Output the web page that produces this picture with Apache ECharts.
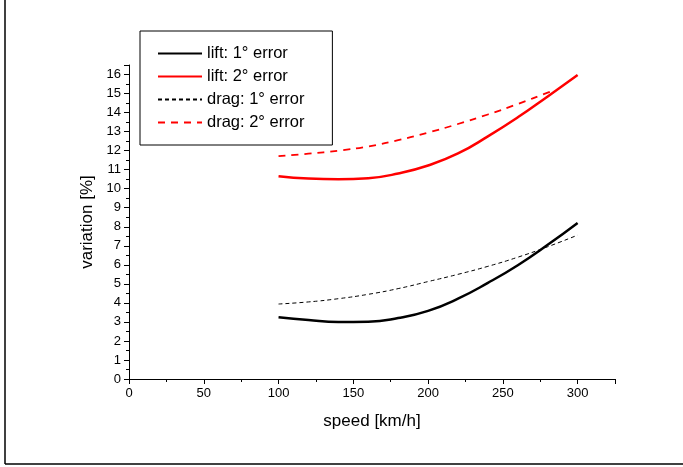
<!DOCTYPE html>
<html>
<head>
<meta charset="utf-8">
<script src="https://cdn.jsdelivr.net/npm/echarts@6/dist/echarts.min.js"></script>
<style>
  html, body { margin: 0; padding: 0; background: #fff; }
  #chart { width: 683px; height: 467px; }
</style>
</head>
<body>
<div id="chart"></div>
<script>
// speed [km/h] -> variation [%]
var speeds = [100, 120, 140, 160, 180, 200, 220, 240, 260, 280, 300];
var lift1 = [3.25, 3.1, 3.0, 3.01, 3.2, 3.58, 4.22, 5.05, 5.98, 7.05, 8.2];
var lift2 = [10.66, 10.53, 10.49, 10.55, 10.8, 11.22, 11.85, 12.75, 13.75, 14.85, 15.97];
var drag1 = [3.94, 4.05, 4.22, 4.45, 4.75, 5.12, 5.5, 5.92, 6.4, 6.95, 7.56];
// drag: 2° error stops where it meets the lift curve
var drag2Speeds = [100, 120, 140, 160, 180, 200, 220, 240, 260, 280, 285];
var drag2 = [11.71, 11.84, 12.0, 12.22, 12.55, 12.95, 13.4, 13.9, 14.45, 15.05, 15.2];
var seriesNames = ["lift: 1° error", "lift: 2° error", "drag: 1° error", "drag: 2° error"];

function pairs(xs, ys) {
  return xs.map(function (x, i) { return [x, ys[i]]; });
}

var myChart = echarts.init(document.getElementById("chart"));
var font = "Liberation Sans, Arial, sans-serif";

myChart.setOption({
  animation: false,
  backgroundColor: "#fff",
  textStyle: { fontFamily: font },
  grid: { left: 129, right: 68, top: 65, bottom: 88 },
  graphic: [
    { type: "line", shape: { x1: 5, y1: 0, x2: 5, y2: 464 }, style: { stroke: "#000", lineWidth: 1.5 } },
    { type: "line", shape: { x1: 5, y1: 464, x2: 683, y2: 464 }, style: { stroke: "#000", lineWidth: 1.5 } }
  ],
  legend: {
    orient: "vertical",
    left: 140,
    top: 31,
    padding: [14, 28, 14, 17],
    itemGap: 6,
    itemWidth: 44,
    itemHeight: 17,
    borderColor: "#000",
    borderWidth: 1,
    itemStyle: { opacity: 0 },
    textStyle: { fontSize: 16.5, color: "#000", fontFamily: font },
    data: seriesNames
  },
  xAxis: {
    type: "value",
    min: 0,
    max: 325,
    interval: 50,
    name: "speed [km/h]",
    nameLocation: "middle",
    nameGap: 34,
    nameTextStyle: { fontSize: 17, color: "#000" },
    axisLine: { lineStyle: { color: "#000", width: 1 } },
    axisTick: { show: true, length: 5, lineStyle: { color: "#000" } },
    minorTick: { show: true, splitNumber: 2, length: 3, lineStyle: { color: "#000" } },
    axisLabel: { color: "#000", fontSize: 13, margin: 8, showMaxLabel: false },
    splitLine: { show: false }
  },
  yAxis: {
    type: "value",
    min: 0,
    max: 16.5,
    interval: 1,
    name: "variation [%]",
    nameLocation: "middle",
    nameGap: 33,
    nameTextStyle: { fontSize: 17, color: "#000" },
    axisLine: { show: true, lineStyle: { color: "#000", width: 1 } },
    axisTick: { show: true, length: 5, lineStyle: { color: "#000" } },
    minorTick: { show: true, splitNumber: 2, length: 3, lineStyle: { color: "#000" } },
    axisLabel: { color: "#000", fontSize: 13, margin: 8, showMaxLabel: false },
    splitLine: { show: false }
  },
  series: [
    {
      name: seriesNames[0], type: "line", data: pairs(speeds, lift1), smooth: true, symbol: "none",
      itemStyle: { color: "#000" },
      lineStyle: { color: "#000", width: 2.5 }
    },
    {
      name: seriesNames[1], type: "line", data: pairs(speeds, lift2), smooth: true, symbol: "none",
      itemStyle: { color: "#ff0000" },
      lineStyle: { color: "#ff0000", width: 2.5 }
    },
    {
      name: seriesNames[2], type: "line", data: pairs(speeds, drag1), smooth: true, symbol: "none",
      itemStyle: { color: "#000" },
      lineStyle: { color: "#000", width: 1, type: [4, 3] }
    },
    {
      name: seriesNames[3], type: "line", data: pairs(drag2Speeds, drag2), smooth: true, symbol: "none",
      itemStyle: { color: "#ff0000" },
      lineStyle: { color: "#ff0000", width: 1.8, type: [7, 6] }
    }
  ]
});
</script>
</body>
</html>
